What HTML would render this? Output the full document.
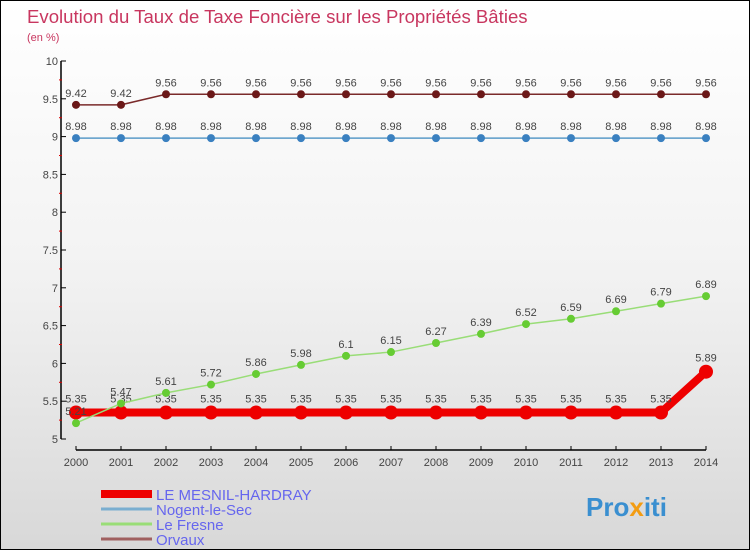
<!DOCTYPE html>
<html><head><meta charset="utf-8"><style>
html,body{margin:0;padding:0}
body{width:750px;height:550px;overflow:hidden;font-family:"Liberation Sans",sans-serif}
#wrap{position:relative;width:748px;height:548px;border:1px solid #000;background:linear-gradient(#ffffff,#f2f2f2 50%,#d8d8d8)}
svg text{font-family:"Liberation Sans",sans-serif}
</style></head><body>
<div id="wrap">
<svg id="chart" width="750" height="550">
<text x="26" y="22" font-size="18.6" fill="#c8365f">Evolution du Taux de Taxe Foncière sur les Propriétés Bâties</text>
<text x="26" y="40" font-size="11" fill="#c8365f">(en %)</text>
<text x="585" y="515" font-size="26" font-weight="bold" fill="#3a8fd0">Pro<tspan fill="#f39c12">x</tspan>iti</text>
</svg>
</div>
<script>
const years=[2000,2001,2002,2003,2004,2005,2006,2007,2008,2009,2010,2011,2012,2013,2014];
const yTicks=[5,5.5,6,6.5,7,7.5,8,8.5,9,9.5,10];
const yTickLabels=["5","5.5","6","6.5","7","7.5","8","8.5","9","9.5","10"];
const seriesNames=["LE MESNIL-HARDRAY","Nogent-le-Sec","Le Fresne","Orvaux"];
const mesnil=[5.35,5.35,5.35,5.35,5.35,5.35,5.35,5.35,5.35,5.35,5.35,5.35,5.35,5.35,5.89];
const nogent=[8.98,8.98,8.98,8.98,8.98,8.98,8.98,8.98,8.98,8.98,8.98,8.98,8.98,8.98,8.98];
const fresne=[5.21,5.47,5.61,5.72,5.86,5.98,6.1,6.15,6.27,6.39,6.52,6.59,6.69,6.79,6.89];
const orvaux=[9.42,9.42,9.56,9.56,9.56,9.56,9.56,9.56,9.56,9.56,9.56,9.56,9.56,9.56,9.56];

const svg=document.getElementById('chart');
const NS="http://www.w3.org/2000/svg";
const xS=i=>75+i*45;
const yS=v=>438-(v-5)*75.6;
function mk(t,a){const e=document.createElementNS(NS,t);for(const k in a)e.setAttribute(k,a[k]);svg.appendChild(e);return e;}

let ax=mk('line',{x1:60,y1:60,x2:60,y2:438,stroke:'#000','stroke-width':1.5});


let bx=mk('line',{x1:75,y1:449,x2:705,y2:449,stroke:'#000','stroke-width':1.5});


yTicks.forEach((v,i)=>{
  const t=mk('line',{x1:60,y1:yS(v),x2:65,y2:yS(v),stroke:'#000'});
  
  
  if(i<yTicks.length-1){const m=mk('line',{x1:58,y1:yS(v+0.25),x2:61,y2:yS(v+0.25),stroke:'#d00'});
  
  }
  const l=mk('text',{x:57,y:yS(v)+4,'font-size':11,fill:'#444','text-anchor':'end'});
  l.textContent=yTickLabels[i];
  
  
});
years.forEach((y,i)=>{
  const t=mk('line',{x1:xS(i),y1:445,x2:xS(i),y2:449,stroke:'#000'});
  
  
  const l=mk('text',{x:xS(i),y:465,'font-size':11,fill:'#444','text-anchor':'middle'});
  l.textContent=y;
  
  
});

function series(vals,color,lw,r,dot,name,labelDy){
  const pl=mk('polyline',{points:vals.map((v,i)=>xS(i)+','+yS(v)).join(' '),fill:'none',stroke:color,'stroke-width':lw});
  
  
  vals.forEach((v,i)=>{
    const c=mk('circle',{cx:xS(i),cy:yS(v),r:r,fill:dot});
    
    
    const l=mk('text',{x:xS(i),y:yS(v)-labelDy,'font-size':11,fill:'#444','text-anchor':'middle'});
    l.textContent=String(v);
    
    
  });
}
series(orvaux,'#7a2a2a',1.5,4,'#6b1818','orvaux',8);
series(nogent,'#5a9ac8',1.5,4,'#3a80c0','nogent',8);
series(mesnil,'#ee0000',8,7,'#ee0000','mesnil',10);
series(fresne,'#99dd77',1.5,4,'#66cc33','fresne',8);

const lcol=['#ee0000','#7aaed0','#99dd77','#a06060'];
const lw=[8,3,3,3];
seriesNames.forEach((n,i)=>{
  const y=493+i*15;
  const l=mk('line',{x1:100,y1:y,x2:151,y2:y,stroke:lcol[i],'stroke-width':lw[i]});
  
  
  const t=mk('text',{x:155,y:y+6,'font-size':15,fill:'#6666ee'});
  t.textContent=n;
  
  
});
</script>
</body></html>
